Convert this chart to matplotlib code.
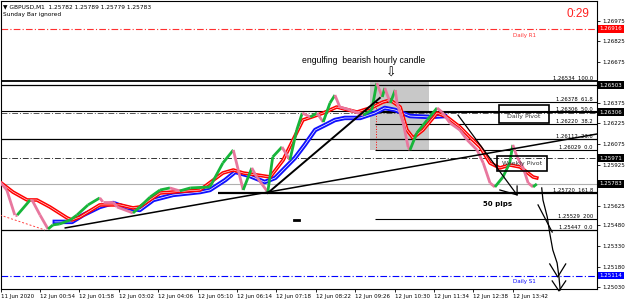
import numpy as np
import matplotlib
matplotlib.use('Agg')
from matplotlib import pyplot as plt
from matplotlib.patches import Rectangle
from matplotlib.collections import LineCollection
import matplotlib.transforms as mtransforms

# x = minutes from 12 Jun 2020 00:00 (M1 bars), y = GBPUSD price
price_t = [-11, 0, 13, 17, 38, 41, 54, 67, 75, 86, 103, 114, 132, 151, 156, 173, 179, 205, 216, 233,
           249, 265, 281, 298, 330, 351, 368, 376, 384, 398, 406, 424, 432, 447, 460, 471, 480, 493, 504, 514,
           525, 533, 541, 558, 579, 593, 601, 610, 614, 623, 631, 634, 644, 652, 655, 666, 683, 699, 707, 720,
           736, 748, 764, 774, 785, 793, 806, 817, 822, 829, 839, 847, 855, 861]
price = [1.25797, 1.25739, 1.25556, 1.25556, 1.25666, 1.25666, 1.25556, 1.25454, 1.25484, 1.25491,
         1.25520, 1.25556, 1.25630, 1.25681, 1.25652, 1.25652, 1.25615, 1.25571, 1.25615, 1.25688,
         1.25739, 1.25754, 1.25732, 1.25754, 1.25761, 1.25936, 1.26031, 1.25885, 1.25739, 1.25900,
         1.25834, 1.25724, 1.25980, 1.26053, 1.25958, 1.26177, 1.26301, 1.26272, 1.26301, 1.26235,
         1.26374, 1.26432, 1.26345, 1.26323, 1.26286, 1.26323, 1.26520, 1.26418, 1.26484, 1.26374,
         1.26469, 1.26374, 1.26228, 1.26053, 1.26031, 1.26155, 1.26250, 1.26338, 1.26308, 1.26228,
         1.26177, 1.26104, 1.26031, 1.25936, 1.25790, 1.25761, 1.25834, 1.25936, 1.26068, 1.25980,
         1.25900, 1.25790, 1.25761, 1.25783]

fast_ma_t = [-11, 10, 33, 49, 70, 98, 106, 119, 151, 184, 205, 216, 249, 314, 351, 368, 384, 406, 428, 449,
             481, 514, 536, 569, 595, 611, 623, 639, 650, 660, 676, 699, 715, 736, 752, 769, 785, 801, 817, 834,
             855, 861]
fast_ma = [1.25797, 1.25724, 1.25666, 1.25666, 1.25615, 1.25535, 1.25520, 1.25542, 1.25630, 1.25630,
           1.25608, 1.25615, 1.25717, 1.25739, 1.25863, 1.25885, 1.25863, 1.25849, 1.25834, 1.25958,
           1.26250, 1.26301, 1.26345, 1.26308, 1.26345, 1.26381, 1.26396, 1.26345, 1.26177, 1.26119,
           1.26177, 1.26301, 1.26272, 1.26199, 1.26126, 1.26053, 1.25936, 1.25900, 1.25922, 1.25907,
           1.25834, 1.25827]

slow_ma_t = [78, 106, 124, 151, 173, 195, 216, 238, 270, 314, 330, 355, 371, 395, 419, 436, 452, 468, 484, 501,
             517, 533, 549, 574, 598, 614, 631, 655, 687, 712]
slow_ma = [1.25506, 1.25506, 1.25556, 1.25615, 1.25644, 1.25608, 1.25593, 1.25666, 1.25703, 1.25724,
           1.25739, 1.25812, 1.25871, 1.25841, 1.25797, 1.25827, 1.25900, 1.25973, 1.26068, 1.26177,
           1.26213, 1.26250, 1.26265, 1.26265, 1.26301, 1.26338, 1.26323, 1.26279, 1.26272, 1.26279]

time_ticks = [-9, 54, 118, 182, 246, 310, 374, 438, 502, 566, 630, 694, 758, 822]
time_labels = ['11 Jun 2020', '12 Jun 00:54', '12 Jun 01:58', '12 Jun 03:02', '12 Jun 04:06',
               '12 Jun 05:10', '12 Jun 06:14', '12 Jun 07:18', '12 Jun 08:22', '12 Jun 09:26',
               '12 Jun 10:30', '12 Jun 11:34', '12 Jun 12:38', '12 Jun 13:42']
price_ticks = [1.26975, 1.26825, 1.26675, 1.26375, 1.26225, 1.26075, 1.25925,
               1.25625, 1.25480, 1.25330, 1.25180, 1.25030]

# fibonacci levels: price, level text, start minute
fib_price = [1.26534, 1.26378, 1.26306, 1.26220, 1.26112, 1.26029, 1.25720, 1.25529, 1.25447]
fib_text = ['100.0', '61.8', '50.0', '38.2', '23.6', '0.0', '161.8', '200', '0.0']
fib_start = [-10, 598, 598, 598, -10, 598, 343, 598, -10]
fib_width = [1.3, 0.8, 0.8, 0.8, 0.9, 0.8, 1.6, 0.8, 0.9]

# price axis markers
mark_price = [1.26916, 1.26503, 1.26306, 1.25971, 1.25783, 1.25114]
mark_color = ['#ff0000', 'black', 'black', 'black', 'black', '#0000ff']

daily_r1 = 1.26916
daily_pivot = 1.26300
weekly_pivot = 1.25971
daily_s1 = 1.25114
last_price = 1.25783

# trend lines drawn on the chart
trend_long_t = [95, 959]
trend_long = [1.25462, 1.26148]
trend_steep_t = [424, 606]
trend_steep = [1.25717, 1.26411]
trend_red_t = [-11, 62]
trend_red = [1.25556, 1.25447]

# hand drawn arrows
pips_t = [733, 829]
pips = [1.26286, 1.25703]
pips_head_t = [801, 829, 829]
pips_head = [1.25739, 1.25703, 1.25768]
curve_t = [869, 871, 878, 882, 887, 894, 897, 899]
curve = [1.25754, 1.25666, 1.25542, 1.25425, 1.25301, 1.25206, 1.25104, 1.25009]
stroke_t = [863, 886]
stroke = [1.25630, 1.25432]
head1_t = [882, 895, 908]
head1 = [1.25199, 1.25104, 1.25199]
head2_t = [886, 897, 908]
head2 = [1.25075, 1.25002, 1.25075]

fig = plt.figure(figsize=(6.25, 3.04), dpi=100)
ax = fig.add_axes([1 / 625, 15 / 304, 596 / 625, 288 / 304])
ax.set_xlim(-9.4, 958.8)
ax.set_ylim(1.25016, 1.27119)

# highlighted hourly candle
ax.add_patch(Rectangle((590, 1.26029), 96, 1.26534 - 1.26029, facecolor='#c8c8c8', edgecolor='none', zorder=1))
ax.plot([600, 600], [1.26029, 1.26380], color='red', lw=0.7, ls=':', zorder=2)

# horizontal levels
ax.axhline(daily_r1, color='#ff3030', lw=0.8, ls='-.', dashes=(6, 2, 1, 2), zorder=2)
ax.axhline(daily_s1, color='#0000ff', lw=0.8, ls='-.', dashes=(6, 2, 1, 2), zorder=2)
ax.axhline(daily_pivot, color='#555555', lw=0.7, ls='-.', dashes=(6, 2, 1, 2), zorder=2)
ax.axhline(weekly_pivot, color='#333333', lw=0.7, ls='-.', dashes=(6, 2, 1, 2), zorder=2)
ax.axhline(1.26503, color='black', lw=0.9, zorder=2)
ax.axhline(1.26314, color='black', lw=0.8, zorder=2)
ax.axhline(last_price, color='#b0b0b0', lw=0.8, zorder=2)

for p, txt, start, w in zip(fib_price, fib_text, fib_start, fib_width):
    ax.plot([start, 958.8], [p, p], color='black', lw=w, zorder=2, solid_capstyle='butt')
    ax.text(952, p, f'{p:.5f}  {txt}', fontsize=3.8, ha='right', va='bottom', zorder=6)

# moving averages and price
ax.plot(slow_ma_t, slow_ma, color='#1010ff', lw=3.2, zorder=3)
ax.plot(slow_ma_t, slow_ma, color='white', lw=0.5, zorder=3)

ax.plot(fast_ma_t, fast_ma, color='#ff0000', lw=2.6, zorder=4)
ax.plot(fast_ma_t, fast_ma, color='white', lw=0.4, zorder=4)

pts = np.column_stack([price_t, price])
segs = np.stack([pts[:-1], pts[1:]], axis=1)
seg_colors = ['#17b53a' if b > a else '#e8779e' for a, b in zip(price[:-1], price[1:])]
ax.add_collection(LineCollection(segs, colors=seg_colors, linewidths=2.0, zorder=5))

# trend lines
ax.plot(trend_long_t, trend_long, color='black', lw=1.1, zorder=6)
ax.plot(trend_steep_t, trend_steep, color='black', lw=1.4, zorder=6)
ax.plot(trend_red_t, trend_red, color='#ff4040', lw=0.7, ls='--', dashes=(2, 2), zorder=6)
ax.plot([467, 475], [1.25520, 1.25520], color='black', lw=2, zorder=6)

# arrows
for xs, ys in [(pips_t, pips), (pips_head_t, pips_head), (curve_t, curve), (stroke_t, stroke),
               (head1_t, head1), (head2_t, head2)]:
    ax.plot(xs, ys, color='black', lw=0.9, zorder=7, clip_on=False)

# boxes for pivots
ax.add_patch(Rectangle((800, 1.26228), 81, 1.26359 - 1.26228, facecolor='none', edgecolor='black', lw=1.2, zorder=7))
ax.text(840, 1.26275, 'Daily Pivot', fontsize=4.5, color='#333333', ha='center', va='center', zorder=8)
ax.add_patch(Rectangle((796, 1.25878), 82, 1.25987 - 1.25878, facecolor='none', edgecolor='black', lw=1.2, zorder=7))
ax.text(837, 1.25934, 'Weekly Pivot', fontsize=4.5, color='#333333', ha='center', va='center', zorder=8)

# annotations
ax.text(579, 1.26688, 'engulfing  bearish hourly candle', fontsize=6.2, family='Liberation Sans',
        ha='center', va='center')
ax.text(624, 1.26590, '\u21e9', fontsize=9, ha='center', va='center')
ax.text(798, 1.25637, '50 pips', fontsize=5, fontweight='bold', ha='center', va='center')
ax.text(822, 1.26885, 'Daily R1', fontsize=4, color='#ff3030', ha='left', va='top')
ax.text(822, 1.25090, 'Daily S1', fontsize=4, color='#0000ff', ha='left', va='top')

ax.text(0.004, 0.98, '\u25bc GBPUSD,M1  1.25782 1.25789 1.25779 1.25783', transform=ax.transAxes,
        fontsize=4.2, ha='left', va='center')
ax.text(0.004, 0.952, 'Sunday Bar ignored', transform=ax.transAxes, fontsize=4.2, ha='left', va='center')
ax.text(0.968, 0.955, '0:29', transform=ax.transAxes, fontsize=8.5, color='#ff2020',
        family='Liberation Sans', ha='center', va='center')

# axes
ax.yaxis.tick_right()
ax.set_yticks(price_ticks)
ax.set_yticklabels([f'{p:.5f}' for p in price_ticks])
ax.tick_params(axis='y', labelsize=4, length=2, width=0.6, pad=1.5)
ax.set_xticks(time_ticks)
ax.set_xticklabels(time_labels, ha='left')
ax.tick_params(axis='x', labelsize=4, length=2, width=0.6, pad=1.5)
for s in ax.spines.values():
    s.set_linewidth(0.8)

trans = mtransforms.blended_transform_factory(ax.transAxes, ax.transData)
for p, c in zip(mark_price, mark_color):
    ax.text(1.004, p, f'{p:.5f}', transform=trans, fontsize=4, color='white', ha='left', va='center',
            bbox=dict(boxstyle='square,pad=0.25', facecolor=c, edgecolor='none'), clip_on=False, zorder=9)

fig.savefig('out.png', dpi=100)
